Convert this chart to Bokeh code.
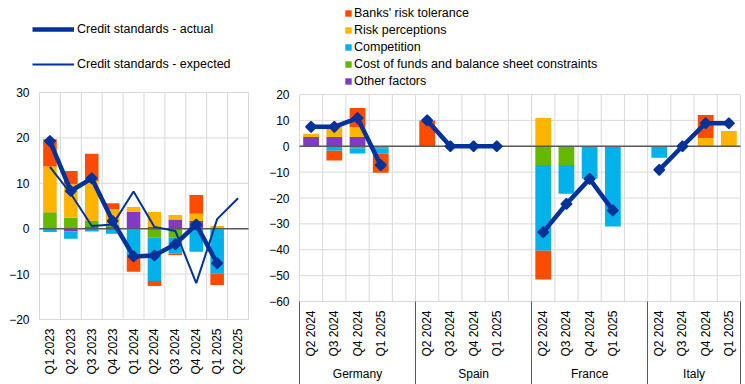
import math
from bokeh.plotting import figure
from bokeh.models import (Range1d, Legend, LegendItem, ColumnDataSource,
                          FixedTicker, LinearAxis)
from bokeh.layouts import row
from bokeh.embed import file_html
from bokeh.resources import INLINE

FONT = "Liberation Sans"

# ---------------- data: left panel (euro area) ----------------
left_quarters = ["Q1 2023", "Q2 2023", "Q3 2023", "Q4 2023", "Q1 2024",
                 "Q2 2024", "Q3 2024", "Q4 2024", "Q1 2025", "Q2 2025"]
left_risk_tolerance = [6.0, 2.9, 6.0, 1.3, -3.7, -1.1, -0.3, 4.1, -2.5, 0.0]
left_risk_perceptions = [10.1, 7.4, 8.8, 3.4, 1.1, 3.3, 1.0, 1.6, 0.6, 0.0]
left_competition = [-0.7, -1.6, -0.6, -1.1, -5.6, -9.5, -3.5, -5.1, -9.7, 0.0]
left_cost_of_funds = [3.6, 2.4, 1.3, 0.5, -0.2, -2.0, -2.0, 0.0, -0.2, 0.0]
left_other = [0.0, -0.6, 0.4, 0.4, 3.7, 0.4, 2.0, 1.7, 0.0, 0.0]
left_actual = [19.3, 8.3, 11.1, 1.7, -6.1, -5.9, -3.4, 0.9, -7.6, float("nan")]
left_expected = [13.6, 7.7, 0.6, 0.9, 8.2, 0.4, -0.5, -12.0, 2.1, 6.7]

# ---------------- data: right panel (countries) ----------------
countries = ["Germany", "Spain", "France", "Italy"]
right_quarters = ["Q2 2024", "Q3 2024", "Q4 2024", "Q1 2025"]
right_risk_tolerance = [0.0, -3.8, 7.5, -7.4,   10.0, 0.0, 0.0, 0.0,
                        -11.1, 0.0, 0.0, 0.0,   0.0, 0.0, 8.9, 0.0]
right_risk_perceptions = [1.2, 3.9, 3.7, 0.0,  0.0, 0.0, 0.0, 0.0,
                          10.9, 0.0, 0.0, 0.0,  0.0, 0.0, 3.2, 5.9]
right_competition = [0.0, -1.7, -2.0, -2.0,    0.0, 0.0, 0.0, 0.0,
                     -33.2, -11.2, -12.6, -31.0, -4.4, 0.0, 0.0, 0.0]
right_cost_of_funds = [0.0, 0.0, -0.8, -0.8,   0.0, 0.0, 0.0, 0.0,
                       -7.2, -7.2, 0.0, 0.0,   0.0, 0.0, 0.0, 0.0]
right_other = [3.6, 3.6, 3.6, 0.0,   0.0, 0.0, 0.0, 0.0,
               0.0, 0.0, 0.0, 0.0,   0.0, 0.0, 0.0, 0.0]
right_actual = [7.5, 7.5, 10.9, -7.3,   10.0, 0.0, 0.0, 0.0,
                -33.2, -22.3, -12.6, -24.8,   -9.1, 0.0, 8.9, 8.9]

left_ticks = [-20, -10, 0, 10, 20, 30]
right_ticks = [-60, -50, -40, -30, -20, -10, 0, 10, 20]

factor_names = ["Banks' risk tolerance", "Risk perceptions", "Competition",
                "Cost of funds and balance sheet constraints", "Other factors"]
factor_colors = ["#FF4B00", "#FFB400", "#00B1EA", "#65B800", "#8139C6"]
LINE_BLUE = "#003299"
GRID = "#d9d9d9"
ZERO = "#595959"
H = 384


def make_range(d_lo, d_hi, px_lo, px_hi, total):
    """Range so that d_lo sits at px_lo and d_hi at px_hi (pixels from range start)."""
    s = (px_hi - px_lo) / (d_hi - d_lo)
    return Range1d(d_lo - px_lo / s, d_hi + (total - px_hi) / s)


def px_to_data(r, px, total):
    return r.start + (r.end - r.start) * px / total


def stack(series_list):
    n = len(series_list[0])
    pos = [0.0] * n
    neg = [0.0] * n
    out = []
    for s in series_list:
        b, t = [], []
        for i, v in enumerate(s):
            if v >= 0:
                b.append(pos[i]); t.append(pos[i] + v); pos[i] += v
            else:
                b.append(neg[i]); t.append(neg[i] + v); neg[i] += v
        out.append((b, t))
    return out


def plain_axis(ax, standoff, orient=None):
    ax.axis_line_color = None
    ax.major_tick_line_color = None
    ax.minor_tick_line_color = None
    ax.major_tick_out = 0
    ax.major_tick_in = 0
    ax.major_label_standoff = standoff
    ax.major_label_text_font = FONT
    ax.major_label_text_font_size = "12px"
    ax.major_label_text_color = "#000000"
    if orient is not None:
        ax.major_label_orientation = orient
    return ax


def base_fig(width, xr, yr):
    p = figure(width=width, height=H, output_backend="svg", toolbar_location=None,
               x_range=xr, y_range=yr, x_axis_location=None, y_axis_location=None,
               min_border=0, min_border_left=0, min_border_right=0,
               min_border_top=0, min_border_bottom=0)
    p.title.visible = False
    p.outline_line_color = None
    p.background_fill_color = "white"
    p.border_fill_color = "white"
    p.grid.visible = False
    return p


def grid(p, x_bounds, y_ticks, x_bounds_list):
    n = len(y_ticks)
    p.segment(x0=[x_bounds[0]] * n, x1=[x_bounds[1]] * n, y0=y_ticks, y1=y_ticks,
              line_color=GRID, line_width=1, level="underlay")
    m = len(x_bounds_list)
    p.segment(x0=x_bounds_list, x1=x_bounds_list, y0=[min(y_ticks)] * m,
              y1=[max(y_ticks)] * m, line_color=GRID, line_width=1, level="underlay")


def legend_style(**kw):
    base = dict(orientation="vertical", padding=0, margin=0, border_line_color=None,
                background_fill_alpha=0, label_text_font=FONT,
                label_text_font_size="12.5px", label_text_color="#000000")
    base.update(kw)
    return Legend(**base)


# stacking order (bottom-up): other, cost, competition, perceptions, tolerance
order = [4, 3, 2, 1, 0]

# ---------------- left figure ----------------
nl = len(left_quarters)
lx = [i + 0.5 for i in range(nl)]
WL = 250
lxr = make_range(0, nl, 39, 248, WL)
lyr = make_range(min(left_ticks), max(left_ticks), H - 319, H - 92, H)
pl = base_fig(WL, lxr, lyr)
grid(pl, (0, nl), left_ticks, list(range(nl + 1)))

left_series = [left_risk_tolerance, left_risk_perceptions, left_competition,
               left_cost_of_funds, left_other]
for (b, t), i in zip(stack([left_series[k] for k in order]), order):
    src = ColumnDataSource(dict(x=lx, bottom=b, top=t))
    pl.vbar(x="x", bottom="bottom", top="top", width=0.65, source=src,
            fill_color=factor_colors[i], line_color=None)

pl.segment(x0=[0], x1=[nl], y0=[0], y1=[0], line_color=ZERO, line_width=1.5)

exp_r = pl.line(lx, left_expected, line_color=LINE_BLUE, line_width=2)
act_r = pl.line(lx, left_actual, line_color=LINE_BLUE, line_width=4.5)
act_m = pl.scatter(lx, left_actual, marker="square", angle=math.pi / 4,
                   size=7.5, fill_color=LINE_BLUE, line_color=LINE_BLUE, line_width=1.5)

ly_ax = plain_axis(LinearAxis(fixed_location=0, ticker=FixedTicker(ticks=left_ticks)), 10)
pl.add_layout(ly_ax, "left")
lx_ax = plain_axis(LinearAxis(fixed_location=min(left_ticks), ticker=FixedTicker(ticks=lx),
                              major_label_overrides={x: q for x, q in zip(lx, left_quarters)}),
                   9, math.pi / 2)
pl.add_layout(lx_ax, "below")

leg_l = legend_style(
    items=[LegendItem(label="Credit standards - actual", renderers=[act_r]),
           LegendItem(label="Credit standards - expected", renderers=[exp_r])],
    location=(32, H - 71), glyph_width=42, glyph_height=14, label_height=14,
    label_standoff=3, spacing=21)
pl.add_layout(leg_l)

# ---------------- right figure ----------------
nq = len(right_quarters)
group_start = []
rx = []
pos = 0
for ci in range(len(countries)):
    group_start.append(pos)
    rx += [pos + qi + 0.5 for qi in range(nq)]
    pos += nq + (1 if ci < len(countries) - 1 else 0)
n_units = pos
group_end = group_start[1:] + [n_units]
group_center = [(a + b) / 2 for a, b in zip(group_start, group_end)]
right_labels = [q for c in countries for q in right_quarters]

WR = 495
rxr = make_range(0, n_units, 49, 490, WR)
ryr = make_range(min(right_ticks), max(right_ticks), H - 301, H - 94, H)
pr = base_fig(WR, rxr, ryr)
grid(pr, (0, n_units), right_ticks, list(range(n_units + 1)))

right_series = [right_risk_tolerance, right_risk_perceptions, right_competition,
                right_cost_of_funds, right_other]
bar_r = {}
for (b, t), i in zip(stack([right_series[k] for k in order]), order):
    src = ColumnDataSource(dict(x=rx, bottom=b, top=t))
    bar_r[i] = pr.vbar(x="x", bottom="bottom", top="top", width=0.68, source=src,
                       fill_color=factor_colors[i], line_color=None)

pr.segment(x0=[0], x1=[n_units], y0=[0], y1=[0], line_color=ZERO, line_width=1.5)

for ci in range(len(countries)):
    xs = rx[ci * nq:(ci + 1) * nq]
    ys = right_actual[ci * nq:(ci + 1) * nq]
    pr.line(xs, ys, line_color=LINE_BLUE, line_width=4.5)
    pr.scatter(xs, ys, marker="square", angle=math.pi / 4, size=7.5,
               fill_color=LINE_BLUE, line_color=LINE_BLUE, line_width=1.5)

ry_ax = plain_axis(LinearAxis(fixed_location=0, ticker=FixedTicker(ticks=right_ticks)), 10)
pr.add_layout(ry_ax, "left")
rq_ax = plain_axis(LinearAxis(fixed_location=min(right_ticks), ticker=FixedTicker(ticks=rx),
                              major_label_overrides={x: q for x, q in zip(rx, right_labels)}),
                   9, math.pi / 2)
pr.add_layout(rq_ax, "below")
rg_ax = plain_axis(LinearAxis(fixed_location=px_to_data(ryr, H - 366, H),
                              ticker=FixedTicker(ticks=group_center),
                              major_label_overrides={x: c for x, c in zip(group_center, countries)}),
                   0)
pr.add_layout(rg_ax, "below")
sep_ax = LinearAxis(fixed_location=min(right_ticks),
                    ticker=FixedTicker(ticks=group_start + [n_units]))
sep_ax.axis_line_color = None
sep_ax.minor_tick_line_color = None
sep_ax.major_tick_in = 0
sep_ax.major_tick_out = 90
sep_ax.major_tick_line_color = ZERO
sep_ax.major_tick_line_width = 1
sep_ax.major_label_text_color = None
sep_ax.major_label_text_font_size = "1px"
pr.add_layout(sep_ax, "below")

leg_r = legend_style(
    items=[LegendItem(label=factor_names[i], renderers=[bar_r[i]]) for i in range(5)],
    location=(94, H - 88), glyph_width=8, glyph_height=8, label_height=14,
    label_standoff=2, spacing=3)
pr.add_layout(leg_r)

layout = row(pl, pr)
open("out.html", "w").write(file_html(layout, INLINE))
